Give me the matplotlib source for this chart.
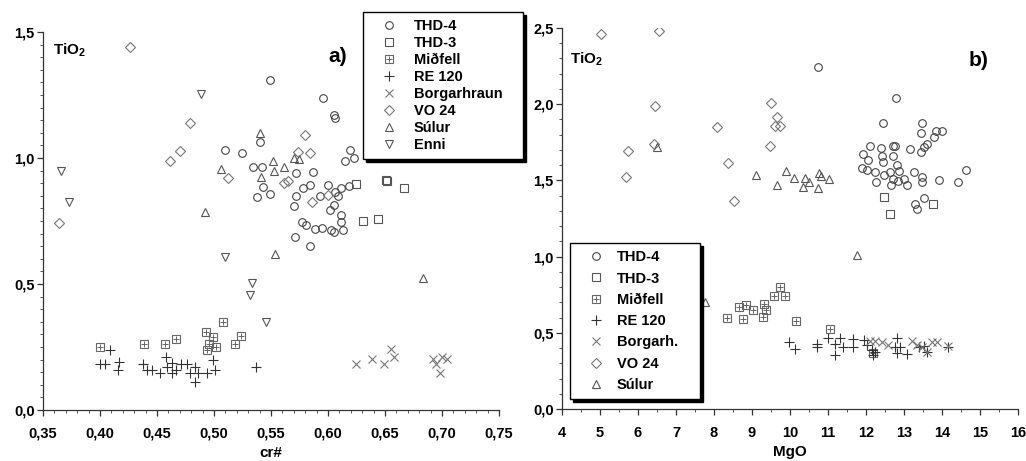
import matplotlib
matplotlib.use("Agg")
import matplotlib.pyplot as plt
from matplotlib.ticker import MultipleLocator, FuncFormatter

plt.rcParams["font.family"] = ["Liberation Sans", "DejaVu Sans"]
plt.rcParams["font.weight"] = "bold"
plt.rcParams["mathtext.fontset"] = "custom"
plt.rcParams["mathtext.bf"] = "Liberation Sans:bold"
plt.rcParams["mathtext.rm"] = "Liberation Sans:bold"
plt.rcParams["mathtext.default"] = "bf"

# ------------------ DATOS PANEL a) (cr# vs TiO2) ------------------
a_thd4_x = [0.549, 0.596, 0.605, 0.606, 0.510, 0.525, 0.540, 0.619, 0.623, 0.615,
            0.534, 0.542, 0.538, 0.549, 0.543, 0.572, 0.587, 0.572, 0.570, 0.578,
            0.584, 0.600, 0.606, 0.611, 0.618, 0.593, 0.609, 0.605, 0.602, 0.611,
            0.611, 0.577, 0.581, 0.589, 0.595, 0.603, 0.613, 0.571, 0.584, 0.605]
a_thd4_y = [1.31, 1.24, 1.17, 1.16, 1.03, 1.02, 1.065, 1.03, 1.00, 0.988,
            0.966, 0.966, 0.846, 0.856, 0.886, 0.939, 0.946, 0.850, 0.811, 0.880,
            0.893, 0.893, 0.866, 0.880, 0.889, 0.850, 0.850, 0.813, 0.794, 0.774,
            0.747, 0.747, 0.734, 0.717, 0.721, 0.714, 0.714, 0.685, 0.652, 0.705]
a_thd3_x = [0.625, 0.651, 0.652, 0.667, 0.631, 0.644]
a_thd3_y = [0.895, 0.913, 0.910, 0.882, 0.750, 0.758]
a_mid_x = [0.400, 0.439, 0.457, 0.467, 0.493, 0.499, 0.496, 0.502, 0.494, 0.508, 0.518, 0.524]
a_mid_y = [0.251, 0.261, 0.261, 0.280, 0.311, 0.288, 0.261, 0.249, 0.238, 0.350, 0.261, 0.292]
a_re_x = [0.400, 0.404, 0.409, 0.417, 0.416, 0.438, 0.441, 0.446, 0.453, 0.458, 0.459, 0.463,
          0.463, 0.467, 0.471, 0.476, 0.479, 0.483, 0.483, 0.486, 0.494, 0.499, 0.501, 0.537]
a_re_y = [0.181, 0.181, 0.238, 0.189, 0.159, 0.181, 0.159, 0.159, 0.148, 0.212, 0.172, 0.188,
          0.148, 0.159, 0.181, 0.181, 0.148, 0.172, 0.110, 0.148, 0.148, 0.198, 0.159, 0.172]
a_borg_x = [0.625, 0.639, 0.649, 0.655, 0.658, 0.692, 0.695, 0.698, 0.700, 0.704]
a_borg_y = [0.181, 0.201, 0.181, 0.241, 0.212, 0.201, 0.181, 0.148, 0.212, 0.201]
a_vo_x = [0.426, 0.479, 0.470, 0.461, 0.512, 0.580, 0.574, 0.584, 0.561, 0.586, 0.364, 0.600, 0.565]
a_vo_y = [1.439, 1.140, 1.029, 0.989, 0.919, 1.091, 1.022, 1.021, 0.902, 0.824, 0.741, 0.853, 0.910]
a_sul_x = [0.540, 0.506, 0.552, 0.561, 0.553, 0.541, 0.575, 0.492, 0.5535, 0.683, 0.570]
a_sul_y = [1.100, 0.955, 0.990, 0.965, 0.950, 0.925, 0.995, 0.785, 0.620, 0.525, 1.000]
a_enni_x = [0.3655, 0.373, 0.489, 0.510, 0.533, 0.532, 0.546]
a_enni_y = [0.948, 0.824, 1.254, 0.606, 0.505, 0.456, 0.348]

# ------------------ DATOS PANEL b) (MgO vs TiO2) ------------------
b_thd4_x = [10.73, 12.78, 12.46, 13.47, 13.44, 13.84, 13.99, 13.80, 12.11, 12.39,
            12.70, 12.76, 13.16, 13.60, 13.53, 13.44, 11.91, 12.04, 12.41, 12.44,
            12.70, 12.81, 11.89, 12.02, 12.24, 12.47, 12.63, 12.88, 12.70, 12.26,
            12.66, 12.85, 13.00, 13.07, 13.26, 13.47, 13.48, 13.93, 14.43, 14.63,
            13.53, 13.29, 13.35]
b_thd4_y = [2.242, 2.041, 1.879, 1.879, 1.809, 1.826, 1.826, 1.787, 1.726, 1.711,
            1.726, 1.726, 1.706, 1.737, 1.717, 1.684, 1.673, 1.634, 1.660, 1.623,
            1.660, 1.601, 1.579, 1.568, 1.557, 1.535, 1.557, 1.562, 1.507, 1.492,
            1.470, 1.496, 1.507, 1.470, 1.553, 1.524, 1.492, 1.503, 1.492, 1.568,
            1.383, 1.345, 1.312]
b_thd3_x = [12.48, 12.63, 13.77]
b_thd3_y = [1.391, 1.277, 1.343]
b_mid_x = [8.35, 8.67, 8.84, 8.77, 9.03, 9.28, 9.32, 9.37, 9.58, 9.74, 9.87, 10.15, 11.05, 12.19]
b_mid_y = [0.595, 0.671, 0.682, 0.588, 0.650, 0.602, 0.687, 0.650, 0.741, 0.803, 0.741, 0.580, 0.523, 0.370]
b_re_x = [9.98, 10.13, 10.70, 10.72, 11.01, 11.18, 11.32, 11.39, 11.18, 11.67, 11.67, 11.95,
          12.02, 12.15, 12.24, 12.19, 12.81, 12.76, 12.89, 12.81, 13.07, 13.40, 13.53, 13.60, 14.15]
b_re_y = [0.442, 0.394, 0.424, 0.405, 0.464, 0.424, 0.464, 0.405, 0.354, 0.457, 0.405, 0.453,
          0.420, 0.387, 0.376, 0.354, 0.464, 0.405, 0.405, 0.365, 0.361, 0.405, 0.413, 0.376, 0.410]
b_borg_x = [12.11, 12.24, 12.41, 12.59, 13.20, 13.33, 13.47, 13.60, 13.73, 13.86, 14.15]
b_borg_y = [0.446, 0.448, 0.442, 0.420, 0.446, 0.420, 0.409, 0.376, 0.442, 0.442, 0.415]
b_vo_x = [5.02, 6.56, 6.45, 5.74, 5.68, 6.42, 8.09, 8.38, 8.53, 9.49, 9.65, 9.61, 9.74, 9.47]
b_vo_y = [2.458, 2.482, 1.988, 1.693, 1.524, 1.739, 1.852, 1.616, 1.365, 2.006, 1.914, 1.857, 1.857, 1.726]
b_sul_x = [6.49, 9.11, 9.65, 9.89, 10.10, 10.40, 10.51, 10.35, 10.77, 10.81, 10.74, 11.03, 11.75, 7.76]
b_sul_y = [1.721, 1.535, 1.470, 1.564, 1.514, 1.514, 1.492, 1.459, 1.547, 1.531, 1.452, 1.507, 1.010, 0.704]

W, H = 1026, 461
fig = plt.figure(figsize=(W / 100, H / 100), dpi=100)
ax1 = fig.add_axes([43 / W, 1 - 410 / H, 456 / W, 378 / H])
ax2 = fig.add_axes([562 / W, 1 - 409 / H, 456 / W, 381 / H])

ms = 5.5
def puntos(ax, x, y, marker, color, size=ms, lw=0.8):
    return ax.plot(x, y, linestyle="none", marker=marker, markersize=size,
                   markerfacecolor="none", markeredgecolor=color, markeredgewidth=lw)[0]

def miodfell(ax, x, y):
    h1 = puntos(ax, x, y, "s", "#666666", 6)
    h2 = puntos(ax, x, y, "+", "#666666", 5, 0.7)
    return (h1, h2)

# ---- panel a ----
ha = [
    puntos(ax1, a_thd4_x, a_thd4_y, "o", "#444444"),
    puntos(ax1, a_thd3_x, a_thd3_y, "s", "#555555"),
    miodfell(ax1, a_mid_x, a_mid_y),
    puntos(ax1, a_re_x, a_re_y, "+", "#333333", 7),
    puntos(ax1, a_borg_x, a_borg_y, "x", "#777777", 6),
    puntos(ax1, a_vo_x, a_vo_y, "D", "#777777", 5.5),
    puntos(ax1, a_sul_x, a_sul_y, "^", "#555555", 5.5),
    puntos(ax1, a_enni_x, a_enni_y, "v", "#555555", 5.5),
]
labels_a = ["THD-4", "THD-3", "Miðfell", "RE 120", "Borgarhraun", "VO 24", "Súlur", "Enni"]

# ---- panel b ----
hb = [
    puntos(ax2, b_thd4_x, b_thd4_y, "o", "#444444"),
    puntos(ax2, b_thd3_x, b_thd3_y, "s", "#555555"),
    miodfell(ax2, b_mid_x, b_mid_y),
    puntos(ax2, b_re_x, b_re_y, "+", "#333333", 7),
    puntos(ax2, b_borg_x, b_borg_y, "x", "#777777", 6),
    puntos(ax2, b_vo_x, b_vo_y, "D", "#777777", 5.5),
    puntos(ax2, b_sul_x, b_sul_y, "^", "#555555", 5.5),
]
labels_b = ["THD-4", "THD-3", "Miðfell", "RE 120", "Borgarh.", "VO 24", "Súlur"]

coma = lambda fmt: FuncFormatter(lambda v, p: fmt.format(v).replace(".", ","))

for ax in (ax1, ax2):
    for s in ("top", "right"):
        ax.spines[s].set_visible(False)
    for s in ("left", "bottom"):
        ax.spines[s].set_color("#333333")
        ax.spines[s].set_linewidth(0.9)
    ax.tick_params(which="major", direction="out", length=4, width=0.9, color="#333333",
                   labelsize=10.5)
    ax.tick_params(which="minor", direction="out", length=2.5, width=0.7, color="#555555")
    ax.tick_params(axis="x", pad=8)
    ax.tick_params(axis="y", pad=2)

ax1.set_xlim(0.35, 0.75)
ax1.set_ylim(0, 1.5)
ax1.xaxis.set_major_locator(MultipleLocator(0.05))
ax1.xaxis.set_minor_locator(MultipleLocator(0.01))
ax1.yaxis.set_major_locator(MultipleLocator(0.5))
ax1.yaxis.set_minor_locator(MultipleLocator(0.05))
ax1.xaxis.set_major_formatter(coma("{:.2f}"))
ax1.yaxis.set_major_formatter(coma("{:.1f}"))
ax1.set_xlabel("cr#", fontsize=11, fontweight="bold", labelpad=4)

ax2.set_xlim(4, 16)
ax2.set_ylim(0, 2.5)
ax2.xaxis.set_major_locator(MultipleLocator(1))
ax2.xaxis.set_minor_locator(MultipleLocator(0.5))
ax2.yaxis.set_major_locator(MultipleLocator(0.5))
ax2.yaxis.set_minor_locator(MultipleLocator(0.1))
ax2.xaxis.set_major_formatter(coma("{:.0f}"))
ax2.yaxis.set_major_formatter(coma("{:.1f}"))
ax2.set_xlabel("MgO", fontsize=11, fontweight="bold", labelpad=4)

# textos dentro de los ejes
fig.text(53 / W, 1 - 50 / H, r"TiO$_2$", fontsize=11, fontweight="bold", va="center")
fig.text(570 / W, 1 - 59 / H, r"TiO$_2$", fontsize=11, fontweight="bold", va="center")
fig.text(328 / W, 1 - 57 / H, "a)", fontsize=15, fontweight="bold", va="center")
fig.text(969 / W, 1 - 60 / H, "b)", fontsize=15, fontweight="bold", va="center")

sombra = {"facecolor": "black", "edgecolor": "black", "alpha": 1.0}
leg1 = ax1.legend(ha, labels_a, loc="upper left", mode="expand",
                  bbox_to_anchor=(363 / W, 1 - 165 / H, 160 / W, 153 / H),
                  bbox_transform=fig.transFigure, borderaxespad=0,
                  prop={"weight": "bold", "size": 10.5}, labelspacing=0.2,
                  handlelength=2.6, handletextpad=0.4, borderpad=0.5,
                  fancybox=False, framealpha=1, edgecolor="black", shadow=sombra)
leg1.get_frame().set_linewidth(1.0)
leg1.set_zorder(10)

leg2 = ax2.legend(hb, labels_b, loc="upper left", mode="expand",
                  bbox_to_anchor=(570 / W, 1 - 403 / H, 130 / W, 160 / H),
                  bbox_transform=fig.transFigure, borderaxespad=0,
                  prop={"weight": "bold", "size": 10.5}, labelspacing=0.5,
                  handlelength=2.6, handletextpad=0.1, borderpad=0.5,
                  fancybox=False, framealpha=1, edgecolor="black", shadow=sombra)
leg2.get_frame().set_linewidth(1.0)
leg2.set_zorder(10)

fig.savefig("out.png", dpi=100)
